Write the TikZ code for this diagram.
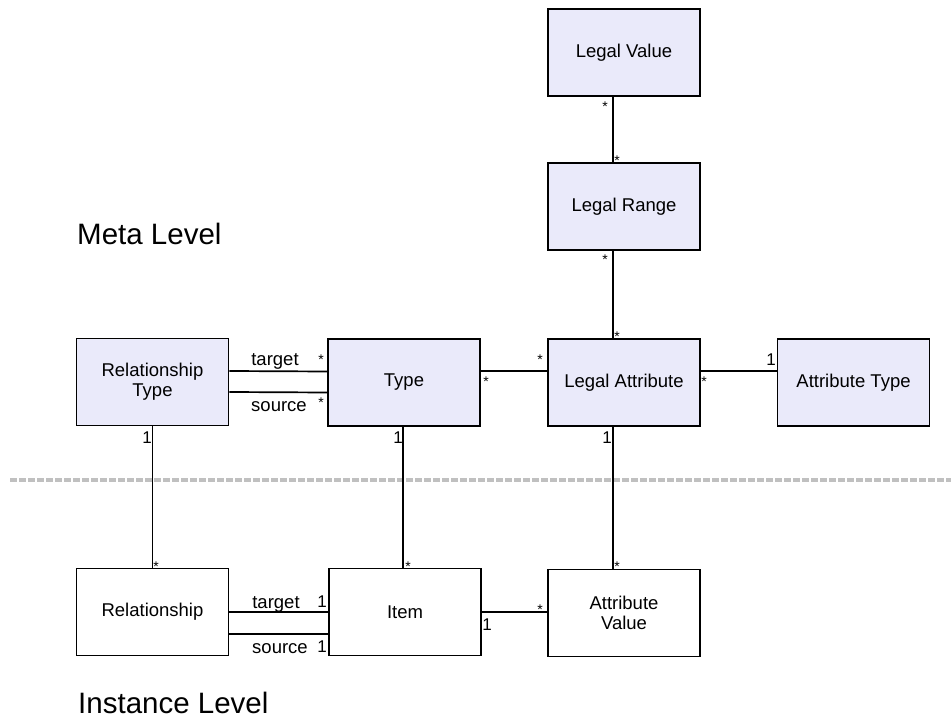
\documentclass[tikz,border=0pt]{standalone}
\usepackage{fontspec}
\setmainfont{Liberation Sans}
\definecolor{metafill}{RGB}{234,234,250}
\definecolor{sepgray}{RGB}{192,192,192}
\begin{document}
\begin{tikzpicture}[x=1pt,y=-1pt,
  cls/.style={draw=black, line width=1.7pt, minimum width=152pt, minimum height=87pt, inner sep=0pt, align=center, font=\fontsize{18.5}{20}\selectfont},
  meta/.style={cls, fill=metafill},
  inst/.style={cls, fill=white},
  conn/.style={draw=black, line width=1.7pt},
  mult/.style={inner sep=0pt, anchor=north, font=\fontsize{14}{14}\selectfont},
  one/.style={inner sep=0pt, font=\fontsize{17}{17}\selectfont},
  role/.style={inner sep=0pt, anchor=base, font=\fontsize{18.5}{18.5}\selectfont},
  level/.style={inner sep=0pt, anchor=base west, font=\fontsize{29.5}{29.5}\selectfont}]
\useasboundingbox (0,0) rectangle (951,719);

% separator
\draw[sepgray, line width=4pt, dash pattern=on 6.5pt off 2.5pt] (10,480) -- (951,480);

% meta level classes
\node[meta] (lv) at (624,52.5) {Legal Value};
\node[meta] (lr) at (624,206.5) {Legal Range};
\node[meta] (rt) at (152.5,382) {Relationship\\Type};
\node[meta] (ty) at (404,382.5) {Type};
\node[meta] (la) at (624,382.5) {Legal Attribute};
\node[meta] (at) at (853.5,382.5) {Attribute Type};

% instance level classes
\node[inst] (rel) at (152.5,612) {Relationship};
\node[inst] (it) at (405,612) {Item};
\node[inst] (av) at (624,613) {Attribute\\Value};

% connectors
\draw[conn] ([xshift=-11pt]lv.south) -- ([xshift=-11pt]lr.north);
\draw[conn] ([xshift=-11pt]lr.south) -- ([xshift=-11pt]la.north);
\draw[conn] ([yshift=11pt]rt.east) -- ([yshift=11pt]ty.west);
\draw[conn] ([yshift=-10pt]rt.east) -- ([yshift=-10pt]ty.west);
\draw[conn] ([yshift=11.5pt]ty.east) -- ([yshift=11.5pt]la.west);
\draw[conn] ([yshift=11.5pt]la.east) -- ([yshift=11.5pt]at.west);
\draw[conn] (rt.south) -- (rel.north);
\draw[conn] ([xshift=-1pt]ty.south) -- ([xshift=-1pt]ty.south |- it.north);
\draw[conn] ([xshift=-11pt]la.south) -- ([xshift=-11pt]la.south |- av.north);
\draw[conn] (rel.east) -- (it.west);
\draw[conn] ([yshift=-22pt]rel.east) -- ([yshift=-22pt]rel.east -| it.west);
\draw[conn] (it.east) -- (it.east -| av.west);

% role names
\node[role] (rtt) at (275,366) {target};
\node[role] (rts) at (279,411) {source};
\node[role] (rlt) at (276,608) {target};
\node[role] (rls) at (280,653) {source};

% multiplicities: *
\node[mult] (m1) at (605,102) {*};
\node[mult] (m2) at (617,156) {*};
\node[mult] (m3) at (605,255) {*};
\node[mult] (m4) at (617,331.5) {*};
\node[mult] (m5) at (540,354.5) {*};
\node[mult] (m6) at (486,376.5) {*};
\node[mult] (m7) at (704,376.5) {*};
\node[mult] (m8) at (321,355) {*};
\node[mult] (m9) at (321,398) {*};
\node[mult] (m10) at (156,562) {*};
\node[mult] (m11) at (408,562) {*};
\node[mult] (m12) at (617,562) {*};
\node[mult] (m13) at (540,605) {*};

% multiplicities: 1
\node[one] (o1) at (771,360) {1};
\node[one] (o2) at (147,438) {1};
\node[one] (o3) at (398,438) {1};
\node[one] (o4) at (607,438) {1};
\node[one] (o5) at (322,602) {1};
\node[one] (o6) at (322,647) {1};
\node[one] (o7) at (487,625) {1};

% level captions
\node[level] (ml) at (77,245) {Meta Level};
\node[level] (il) at (78,713) {Instance Level};
\end{tikzpicture}
\end{document}
